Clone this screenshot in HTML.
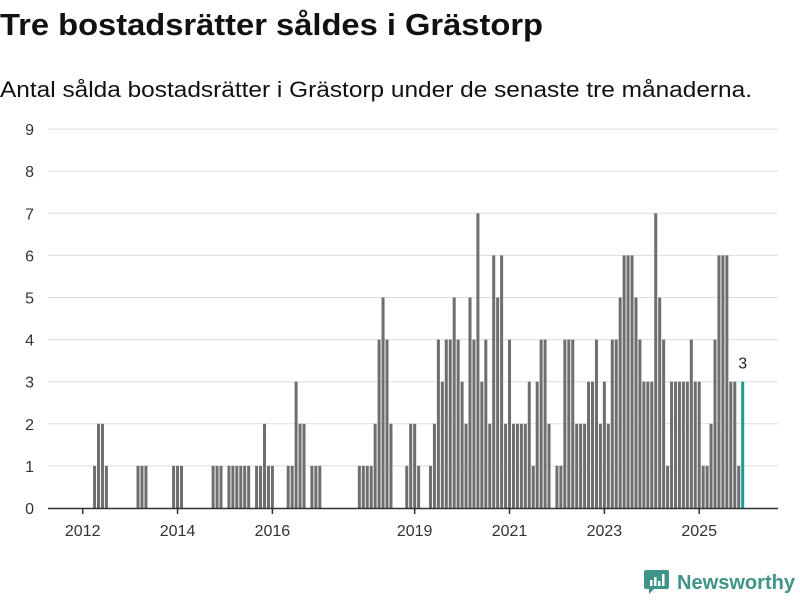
<!DOCTYPE html>
<html><head><meta charset="utf-8">
<style>
html,body{margin:0;padding:0;background:#fff;}
body{width:800px;height:600px;overflow:hidden;font-family:"Liberation Sans",sans-serif;}
</style></head>
<body>
<svg id="chart" width="800" height="600" viewBox="0 0 800 600" xmlns="http://www.w3.org/2000/svg">
  <text x="0" y="35" font-family="Liberation Sans, sans-serif" font-weight="bold" font-size="31" fill="#111" textLength="543" lengthAdjust="spacingAndGlyphs">Tre bostadsrätter såldes i Grästorp</text>
  <text x="0" y="97" font-family="Liberation Sans, sans-serif" font-size="22" fill="#111" textLength="752" lengthAdjust="spacingAndGlyphs">Antal sålda bostadsrätter i Grästorp under de senaste tre månaderna.</text>
  <g id="grid"></g>
  <g id="yaxis"></g>
  <g id="bars"></g>
  <g id="xaxis"></g>
  <g>
    <path d="M646 570 h21 a2 2 0 0 1 2 2 v15 a2 2 0 0 1 -2 2 h-13 l-5 5 v-5 h-3 a2 2 0 0 1 -2 -2 v-15 a2 2 0 0 1 2 -2z" fill="#3d9487"/>
    <rect x="650" y="580" width="2.5" height="6" fill="#fff"/>
    <rect x="654" y="577" width="2.5" height="9" fill="#fff"/>
    <rect x="658" y="581" width="2.5" height="5" fill="#fff"/>
    <rect x="662" y="574" width="2.5" height="12" fill="#fff"/>
    <text x="677" y="589" font-family="Liberation Sans, sans-serif" font-weight="bold" font-size="20" fill="#3d9487" textLength="118" lengthAdjust="spacingAndGlyphs">Newsworthy</text>
  </g>
</svg>
<script>
// months since Jan 2012 (index 0 = Jan 2012)
const values = [
0,0,0,1,2,2,1,0,0,0,0,0,
0,0,1,1,1,0,0,0,0,0,0,1,
1,1,0,0,0,0,0,0,0,1,1,1,
0,1,1,1,1,1,1,0,1,1,2,1,
1,0,0,0,1,1,3,2,2,0,1,1,
1,0,0,0,0,0,0,0,0,0,1,1,
1,1,2,4,5,4,2,0,0,0,1,2,
2,1,0,0,1,2,4,3,4,4,5,4,
3,2,5,4,7,3,4,2,6,5,6,2,
4,2,2,2,2,3,1,3,4,4,2,0,
1,1,4,4,4,2,2,2,3,3,4,2,
3,2,4,4,5,6,6,6,5,4,3,3,
3,7,5,4,1,3,3,3,3,3,4,3,
3,1,1,2,4,6,6,6,3,3,1,3
];
const yTicks = [0,1,2,3,4,5,6,7,8,9];
const xTickYears = [2012,2014,2016,2019,2021,2023,2025];
const lastLabel = "3";

const NS = "http://www.w3.org/2000/svg";
const X0 = 82.7, MW = 3.952, Y0 = 508, UNIT = 42.1;
function xScale(i){ return X0 + MW * i; }
function yScale(v){ return Y0 - UNIT * v; }
function mk(tag, attrs, parent){
  const e = document.createElementNS(NS, tag);
  for (const k in attrs) e.setAttribute(k, attrs[k]);
  parent.appendChild(e);
  return e;
}
const grid = document.getElementById('grid');
const yaxis = document.getElementById('yaxis');
const bars = document.getElementById('bars');
const xaxis = document.getElementById('xaxis');

yTicks.forEach(t => {
  if (t > 0) {
    const l = mk('line', {x1:48, x2:778, y1:yScale(t), y2:yScale(t), stroke:'#dedede', 'stroke-width':1}, grid);
    
    
  }
  const tx = mk('text', {x:34, y:yScale(t)+6, 'text-anchor':'end', 'font-size':16, fill:'#333', 'font-family':'Liberation Sans, sans-serif'}, yaxis);
  tx.textContent = t;
  
  
});

values.forEach((v, i) => {
  if (v <= 0) return;
  const last = i === values.length - 1;
  const bw = 3.0;
  const r = mk('rect', {x:xScale(i)-bw/2, y:yScale(v), width:bw, height:UNIT*v, fill: last ? '#1a9e94' : '#6e6d72'}, bars);
  
  
});
const lastI = values.length - 1;
const lbl = mk('text', {x:xScale(lastI), y:yScale(values[lastI])-13, 'text-anchor':'middle', 'font-size':16, fill:'#222', 'font-family':'Liberation Sans, sans-serif'}, bars);
lbl.textContent = lastLabel;



const axisLine = mk('line', {x1:48, x2:778, y1:Y0+0.5, y2:Y0+0.5, stroke:'#333', 'stroke-width':1.5}, xaxis);


xTickYears.forEach(yr => {
  const x = xScale((yr - 2012) * 12);
  const tk = mk('line', {x1:x, x2:x, y1:Y0, y2:Y0+6, stroke:'#333', 'stroke-width':1.5}, xaxis);
  
  
  const tx = mk('text', {x:x, y:Y0+28, 'text-anchor':'middle', 'font-size':16, fill:'#333', 'font-family':'Liberation Sans, sans-serif'}, xaxis);
  tx.textContent = yr;
  
  
});
</script>
</body></html>
